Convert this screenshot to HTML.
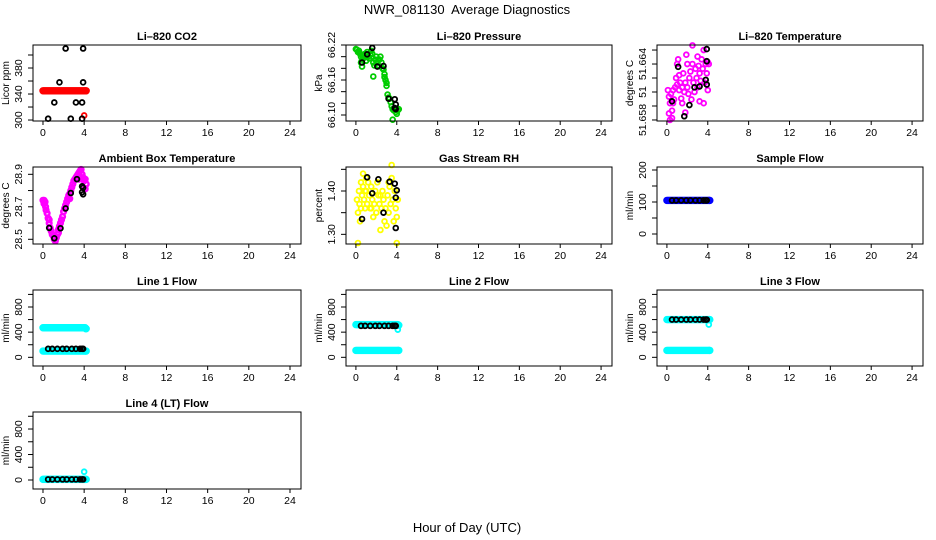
<!DOCTYPE html>
<html><head><meta charset="utf-8"><style>
html,body{margin:0;padding:0;background:#fff;}
svg{display:block;font-family:"Liberation Sans",sans-serif;}
</style></head><body>
<svg id="chart" width="936" height="540" viewBox="0 0 936 540" xmlns="http://www.w3.org/2000/svg">
<rect width="936" height="540" fill="#fff"/>
<text x="467" y="14" font-size="13" text-anchor="middle" style="white-space:pre">NWR_081130  Average Diagnostics</text>
<text x="467" y="532" font-size="13" text-anchor="middle">Hour of Day (UTC)</text>
</svg>
<script>
// ---- data ----
const xTicks = [0,4,8,12,16,20,24];
const bandT = [0.0,0.2,0.4,0.6,0.8,1.0,1.2,1.4,1.6,1.8,2.0,2.2,2.4,2.6,2.8,3.0,3.2,3.4,3.6,3.8,4.0,4.2];
const bandT2 = [0.1,0.3,0.5,0.7,0.9,1.1,1.3,1.5,1.7,1.9,2.1,2.3,2.5,2.7,2.9,3.1,3.3,3.5,3.7,3.9,4.1,4.15];
const blackFlowT = [0.5,0.9,1.4,1.9,2.3,2.8,3.2,3.6,3.8,3.9];

const co2RedV = [345,345,345,345,345,345,345,345,345,345,345,345,345,345,345,345,345,345,345,345,345,345];
const co2ExtraT = [4.0];
const co2ExtraV = [307];
const co2BlackT = [0.5,1.1,1.6,2.2,2.7,3.2,3.8,3.8,3.9,3.9];
const co2BlackV = [302,327,358,410,302,327,327,302,358,410];

const presT = [0.0,0.1,0.2,0.3,0.4,0.5,0.5,0.6,0.7,0.8,0.9,1.0,1.0,1.1,1.2,1.3,1.4,1.5,1.6,1.7,1.8,1.9,2.0,2.1,2.2,2.3,2.4,2.5,2.6,2.7,2.8,2.8,2.9,3.0,3.1,3.2,3.3,3.4,3.5,3.6,3.7,3.8,3.9,4.0,4.1,4.2,0.6,1.7,3.0,3.6];
const presV = [66.213,66.212,66.208,66.21,66.205,66.2,66.19,66.195,66.202,66.198,66.205,66.2,66.193,66.208,66.2,66.197,66.204,66.21,66.205,66.19,66.185,66.195,66.2,66.19,66.185,66.195,66.2,66.19,66.18,66.178,66.17,66.165,66.16,66.15,66.135,66.13,66.128,66.122,66.115,66.11,66.108,66.112,66.105,66.102,66.108,66.11,66.183,66.166,66.155,66.092];
const presBlackT = [1.6,1.1,0.6,2.1,2.7,3.2,3.8,3.9,3.8,3.9];
const presBlackV = [66.215,66.204,66.19,66.183,66.184,66.128,66.127,66.118,66.112,66.11];

const tempT = [0.1,0.2,0.3,0.4,0.5,0.5,0.6,0.6,0.7,0.8,0.9,1.0,1.0,1.1,1.2,1.3,1.4,1.5,1.5,1.6,1.7,1.8,1.8,1.9,2.0,2.0,2.1,2.2,2.3,2.4,2.5,2.5,2.6,2.7,2.8,2.9,3.0,3.0,3.1,3.2,3.2,3.3,3.4,3.5,3.6,3.6,3.7,3.8,3.9,4.0,4.0,4.1,0.3,0.2,1.2];
const tempV = [51.6612,51.6605,51.6598,51.6608,51.659,51.6582,51.6598,51.6612,51.6602,51.6615,51.6625,51.664,51.6618,51.6645,51.6612,51.662,51.6603,51.6598,51.6615,51.663,51.661,51.6588,51.662,51.665,51.664,51.6615,51.6608,51.6625,51.6632,51.6602,51.664,51.666,51.662,51.661,51.6635,51.6625,51.6648,51.6615,51.6638,51.66,51.663,51.6622,51.6645,51.6635,51.6655,51.6598,51.662,51.664,51.663,51.6642,51.6612,51.664,51.658,51.6587,51.6628];
const tempBlackT = [3.9,3.9,1.1,3.8,3.9,3.2,2.7,0.5,2.2,1.7];
const tempBlackV = [51.6656,51.6643,51.6637,51.6623,51.6618,51.6616,51.6615,51.66,51.6596,51.6584];

const ambT = [0,0.1,0.2,0.25,0.3,0.4,0.5,0.6,0.7,0.8,0.9,1.0,1.1,1.2,1.3,1.4,1.5,1.6,1.7,1.8,1.9,2.0,2.1,2.2,2.3,2.4,2.5,2.6,2.7,2.8,2.9,3.0,3.1,3.2,3.3,3.4,3.5,3.6,3.7,3.8,3.9,4.0,4.1,4.2,4.1,0.6,1.5,2.6,3.5,0.1];
const ambV = [28.74,28.74,28.73,28.70,28.68,28.66,28.63,28.60,28.57,28.55,28.53,28.52,28.50,28.49,28.51,28.53,28.56,28.58,28.60,28.62,28.64,28.67,28.69,28.71,28.73,28.75,28.77,28.78,28.80,28.82,28.84,28.86,28.87,28.88,28.89,28.90,28.91,28.92,28.93,28.90,28.88,28.86,28.87,28.84,28.81,28.62,28.54,28.75,28.87,28.72];
const ambBlackT = [0.6,1.1,1.7,2.2,2.7,3.3,3.8,3.8,3.9,3.9];
const ambBlackV = [28.57,28.506,28.568,28.69,28.785,28.87,28.826,28.79,28.777,28.817];

const rhT = [0.1,0.2,0.2,0.3,0.35,0.4,0.5,0.5,0.6,0.7,0.7,0.8,0.9,1.0,1.0,1.1,1.2,1.3,1.4,1.5,1.6,1.7,1.8,1.9,2.0,2.1,2.2,2.3,2.4,2.5,2.6,2.7,2.8,2.9,3.0,3.1,3.2,3.3,3.4,3.5,3.5,3.6,3.7,3.8,3.9,4.0,4.0,4.1,1.5,2.4,0.9,3.2];
const rhV = [1.38,1.35,1.28,1.40,1.37,1.33,1.42,1.36,1.39,1.44,1.41,1.38,1.36,1.43,1.40,1.37,1.42,1.39,1.36,1.41,1.38,1.34,1.37,1.40,1.35,1.42,1.39,1.37,1.31,1.36,1.40,1.38,1.33,1.36,1.32,1.39,1.35,1.41,1.37,1.46,1.43,1.38,1.33,1.40,1.36,1.34,1.28,1.38,1.36,1.39,1.40,1.42];
const rhBlackT = [1.1,2.2,3.3,3.8,4.0,1.6,3.9,2.7,0.6,3.9];
const rhBlackV = [1.4316,1.427,1.4215,1.417,1.4016,1.3947,1.3846,1.35,1.3354,1.3146];

const sampleV = [105,105,105,105,105,105,105,105,105,105,105,105,105,105,105,105,105,105,105,105,105,105];
const sampleBlackV = [105,105,105,105,105,105,105,105,105,105];

const l1HighV = [470,470,470,470,470,470,470,470,470,470,470,470,470,470,470,470,470,470,470,470,470,455];
const l1LowV = [100,100,100,100,100,100,100,100,100,100,100,100,100,100,100,100,100,100,100,100,100,100];
const l1BlackV = [135,135,135,135,135,135,135,135,135,135];

const l2HighV = [520,520,520,520,520,520,520,520,520,520,520,520,520,520,520,520,520,520,520,520,520,510];
const l2ExtraT = [4.1];
const l2ExtraV = [440];
const l2LowV = [110,110,110,110,110,110,110,110,110,110,110,110,110,110,110,110,110,110,110,110,110,110];
const l2BlackV = [500,500,500,500,500,500,500,500,500,500];

const l3HighV = [600,600,600,600,600,600,600,600,600,600,600,600,600,600,600,600,600,600,600,600,600,600];
const l3ExtraT = [4.1];
const l3ExtraV = [520];
const l3LowV = [110,110,110,110,110,110,110,110,110,110,110,110,110,110,110,110,110,110,110,110,110,110];
const l3BlackV = [600,600,600,600,600,600,600,600,600,600];

const l4V = [10,10,10,10,10,10,10,10,10,10,10,10,10,10,10,10,10,10,10,10,10,10];
const l4ExtraT = [4.0];
const l4ExtraV = [130];
const l4BlackV = [10,10,10,10,10,10,10,10,10,10];

// ---- drawing ----
const NS = "http://www.w3.org/2000/svg";
const svg = document.getElementById('chart');
function mk(tag, attrs, parent){
  const e = document.createElementNS(NS, tag);
  for (const k in attrs) e.setAttribute(k, attrs[k]);
  parent.appendChild(e);
  return e;
}
const cols = [{l:33,r:301},{l:346,r:612},{l:657,r:923}];
const rows = [{t:45,b:121},{t:167,b:244},{t:290,b:366},{t:412,b:489}];
const XMIN = -0.97, XMAX = 25.07;

function panel(name, title, yLabel, col, row, yMin, yMax, yTicks, yLabels, series){
  const c = cols[col], r = rows[row];
  const g = mk('g', {}, svg);
  
  
  const xs = v => c.l + (v - XMIN) / (XMAX - XMIN) * (c.r - c.l);
  const ys = v => r.b - (v - yMin) / (yMax - yMin) * (r.b - r.t);
  const t = mk('text', {x:(c.l+c.r)/2, y:r.t-5, 'font-size':11, 'font-weight':'bold', 'text-anchor':'middle'}, g);
  
  
  t.textContent = title;
  series.forEach(s => {
    const sg = mk('g', {fill:'none', stroke:s.color, 'stroke-width':s.sw || 1.8}, g);
    
    
    s.t.forEach((tv, i) => {
      const p = mk('circle', {cx:xs(tv).toFixed(2), cy:ys(s.v[i]).toFixed(2), r:2.4}, sg);
      
      
    });
  });
  const box = mk('rect', {x:c.l, y:r.t, width:c.r-c.l, height:r.b-r.t, fill:'none', stroke:'#000', 'stroke-width':1}, g);
  
  
  const xa = mk('g', {}, g);
  
  
  xTicks.forEach(v => {
    const x = xs(v);
    mk('line', {x1:x, x2:x, y1:r.b, y2:r.b+4, stroke:'#000'}, xa);
    const tl = mk('text', {x:x, y:r.b+15, 'font-size':10.5, 'text-anchor':'middle'}, xa);
    
    
    tl.textContent = v;
  });
  const ya = mk('g', {}, g);
  
  
  yTicks.forEach(v => {
    const y = ys(v);
    mk('line', {x1:c.l-5, x2:c.l, y1:y, y2:y, stroke:'#000'}, ya);
  });
  yLabels.forEach((v, i) => {
    const y = ys(v);
    const tl = mk('text', {x:c.l-11, y:y, 'font-size':10.5, 'text-anchor':'middle', transform:'rotate(-90 '+(c.l-11)+' '+y+')'}, ya);
    
    
    tl.textContent = (name==='li820-temperature' && i===1) ? '51' : v;
  });
  const yt = mk('text', {x:c.l-24, y:(r.t+r.b)/2, 'font-size':10, 'text-anchor':'middle', transform:'rotate(-90 '+(c.l-24)+' '+((r.t+r.b)/2)+')'}, g);
  
  
  yt.textContent = yLabel;
}

panel('li820-co2','Li\u2013820 CO2','Licor ppm',0,0,298.5,415.4,[300,320,340,360,380,400],[300,340,380],[
  {key:'red',color:'#ff0000',t:bandT,v:co2RedV,sw:2.6},
  {key:'red-2',color:'#ff0000',t:bandT2,v:co2RedV,sw:2.6},
  {key:'red-extra',color:'#ff0000',t:co2ExtraT,v:co2ExtraV},
  {key:'black',color:'#000',t:co2BlackT,v:co2BlackV}]);
panel('li820-pressure','Li\u2013820 Pressure','kPa',1,0,66.0897,66.2200,[66.10,66.12,66.14,66.16,66.18,66.20,66.22],['66.10','66.16','66.22'],[
  {key:'green',color:'#00cc00',t:presT,v:presV},
  {key:'black',color:'#000',t:presBlackT,v:presBlackV}]);
panel('li820-temperature','Li\u2013820 Temperature','degrees C',2,0,51.65789,51.66604,[51.658,51.6595,51.661,51.6625,51.664,51.6655],['51.658',51.661,'51.664'],[
  {key:'magenta',color:'#ff00ff',t:tempT,v:tempV},
  {key:'black',color:'#000',t:tempBlackT,v:tempBlackV}]);
panel('ambient-box-temperature','Ambient Box Temperature','degrees C',0,1,28.471,28.945,[28.5,28.6,28.7,28.8,28.9],['28.5','28.7','28.9'],[
  {key:'magenta',color:'#ff00ff',t:ambT,v:ambV,sw:2.4},
  {key:'black',color:'#000',t:ambBlackT,v:ambBlackV}]);
panel('gas-stream-rh','Gas Stream RH','percent',1,1,1.2777,1.4554,[1.30,1.35,1.40,1.45],['1.30','1.40'],[
  {key:'yellow',color:'#ffff00',t:rhT,v:rhV},
  {key:'black',color:'#000',t:rhBlackT,v:rhBlackV}]);
panel('sample-flow','Sample Flow','ml/min',2,1,-31.25,209.4,[0,50,100,150,200],[0,100,200],[
  {key:'blue',color:'#0000ff',t:bandT,v:sampleV,sw:2.6},
  {key:'blue-2',color:'#0000ff',t:bandT2,v:sampleV,sw:2.6},
  {key:'black',color:'#000',t:blackFlowT,v:sampleBlackV}]);
panel('line-1-flow','Line 1 Flow','ml/min',0,2,-138,1070,[0,200,400,600,800,1000],[0,400,800],[
  {key:'cyan-high',color:'#00ffff',t:bandT,v:l1HighV,sw:2.6},
  {key:'cyan-high-2',color:'#00ffff',t:bandT2,v:l1HighV,sw:2.6},
  {key:'cyan-low',color:'#00ffff',t:bandT,v:l1LowV,sw:2.6},
  {key:'cyan-low-2',color:'#00ffff',t:bandT2,v:l1LowV,sw:2.6},
  {key:'black',color:'#000',t:blackFlowT,v:l1BlackV}]);
panel('line-2-flow','Line 2 Flow','ml/min',1,2,-138,1070,[0,200,400,600,800,1000],[0,400,800],[
  {key:'cyan-high',color:'#00ffff',t:bandT,v:l2HighV,sw:2.6},
  {key:'cyan-high-2',color:'#00ffff',t:bandT2,v:l2HighV,sw:2.6},
  {key:'cyan-extra',color:'#00ffff',t:l2ExtraT,v:l2ExtraV},
  {key:'cyan-low',color:'#00ffff',t:bandT,v:l2LowV,sw:2.6},
  {key:'cyan-low-2',color:'#00ffff',t:bandT2,v:l2LowV,sw:2.6},
  {key:'black',color:'#000',t:blackFlowT,v:l2BlackV}]);
panel('line-3-flow','Line 3 Flow','ml/min',2,2,-138,1070,[0,200,400,600,800,1000],[0,400,800],[
  {key:'cyan-high',color:'#00ffff',t:bandT,v:l3HighV,sw:2.6},
  {key:'cyan-high-2',color:'#00ffff',t:bandT2,v:l3HighV,sw:2.6},
  {key:'cyan-extra',color:'#00ffff',t:l3ExtraT,v:l3ExtraV},
  {key:'cyan-low',color:'#00ffff',t:bandT,v:l3LowV,sw:2.6},
  {key:'cyan-low-2',color:'#00ffff',t:bandT2,v:l3LowV,sw:2.6},
  {key:'black',color:'#000',t:blackFlowT,v:l3BlackV}]);
panel('line-4-lt-flow','Line 4 (LT) Flow','ml/min',0,3,-141,1067,[0,200,400,600,800,1000],[0,400,800],[
  {key:'cyan',color:'#00ffff',t:bandT,v:l4V,sw:2.6},
  {key:'cyan-2',color:'#00ffff',t:bandT2,v:l4V,sw:2.6},
  {key:'cyan-extra',color:'#00ffff',t:l4ExtraT,v:l4ExtraV},
  {key:'black',color:'#000',t:blackFlowT,v:l4BlackV}]);
</script>
</body></html>
